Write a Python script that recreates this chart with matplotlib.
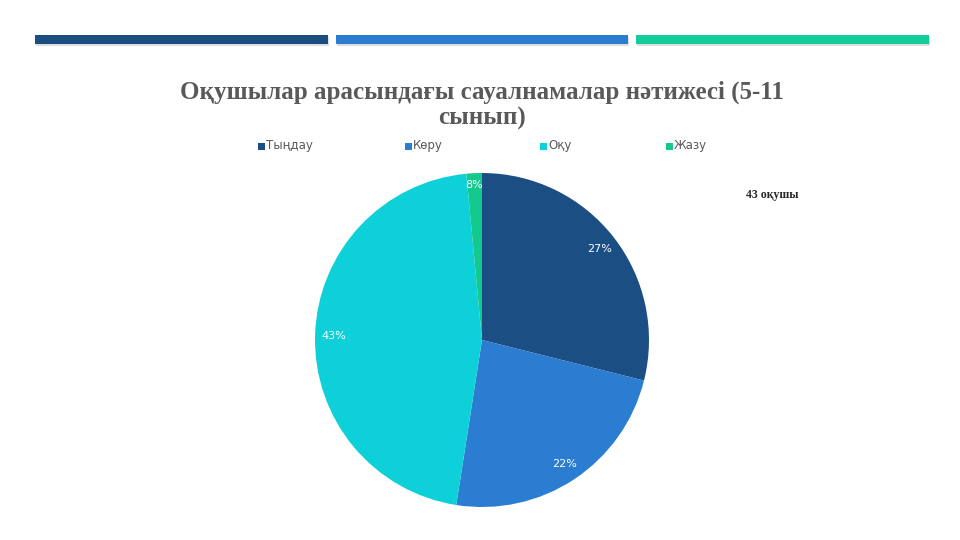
import matplotlib
matplotlib.use("Agg")
import matplotlib.pyplot as plt
from matplotlib.patches import Rectangle

categories = ["Тыңдау", "Көру", "Оқу", "Жазу"]
values = [27, 22, 43, 1.4]
value_labels = ["27%", "22%", "43%", "8%"]
colors = ["#1B4F84", "#2A7DD1", "#0DD0D9", "#14C98E"]
title = "Оқушылар арасындағы сауалнамалар нәтижесі (5-11\nсынып)"
note = "43 оқушы"

W, H = 960, 540
fig = plt.figure(figsize=(9.6, 5.4), dpi=100)
fig.patch.set_facecolor("white")

# decorative bars at top
bar_specs = [(35, 328, "#1B4D80"), (336, 628, "#2A7DD0"), (636, 929, "#13CC99")]
for x0, x1, c in bar_specs:
    fig.patches.append(Rectangle(((x0 + 1) / W, 1 - 46 / H), (x1 - x0) / W, 9 / H,
                                 transform=fig.transFigure, facecolor="#c8c8c8",
                                 edgecolor="none", alpha=0.6))
    fig.patches.append(Rectangle((x0 / W, 1 - 44 / H), (x1 - x0) / W, 9 / H,
                                 transform=fig.transFigure, facecolor=c, edgecolor="none"))

# title
fig.text(482 / W, 1 - 105 / H, title, ha="center", va="center",
         fontsize=18, fontweight="bold", family="Liberation Serif",
         color="#595959", linespacing=1.15)

# pie
cx, cy, r = 482, 340, 167
ax = fig.add_axes([(cx - r) / W, 1 - (cy + r) / H, 2 * r / W, 2 * r / H])
wedges, texts = ax.pie(values, colors=colors, startangle=90, counterclock=False,
                       labels=value_labels, labeldistance=0.89,
                       wedgeprops=dict(linewidth=0))
for t in texts:
    t.set_color("white")
    t.set_fontsize(8)
    t.set_ha("center")
    t.set_va("center")
x, y = texts[3].get_position()
texts[3].set_position((x * 0.93 / 0.89 - 0.005, y * 0.93 / 0.89))
ax.set_aspect("equal")
ax.set_xlim(-1, 1)
ax.set_ylim(-1, 1)

# legend
leg_x = [258, 405, 540, 666]
for x, name, c in zip(leg_x, categories, colors):
    fig.patches.append(Rectangle((x / W, 1 - 150 / H), 7 / W, 7 / H,
                                 transform=fig.transFigure, facecolor=c, edgecolor="none"))
    fig.text((x + 8) / W, 1 - 146 / H, name, ha="left", va="center",
             fontsize=8.5, color="#595959", family="DejaVu Sans")

fig.text(772 / W, 1 - 195 / H, note, ha="center", va="center",
         fontsize=8.5, fontweight="bold", family="Liberation Serif", color="#262626")

fig.savefig("out.png", dpi=100)
